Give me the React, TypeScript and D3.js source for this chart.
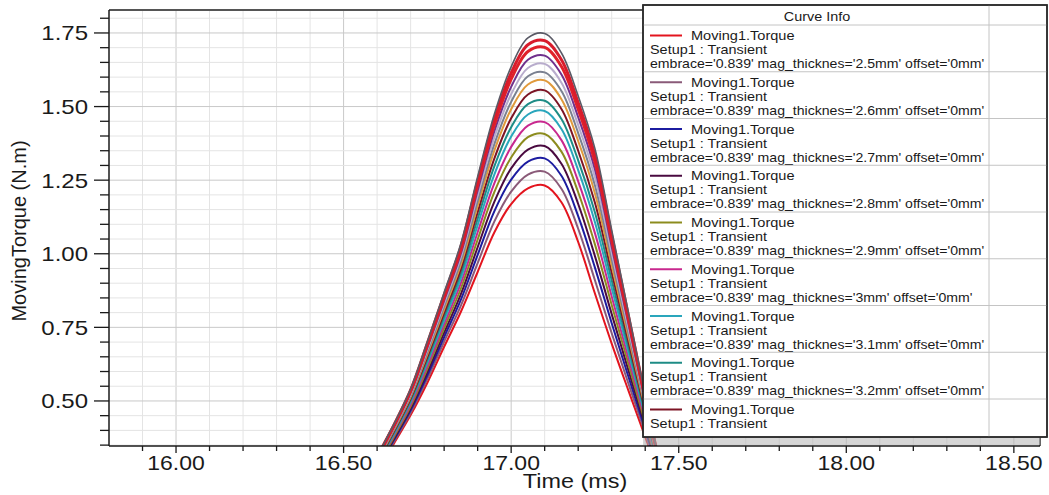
import React from 'react';
import * as d3 from 'd3';

// sample times (ms)
const TIME = [16.55, 16.6, 16.65, 16.7, 16.75, 16.8, 16.85, 16.9, 16.95, 17.0, 17.05, 17.1, 17.15, 17.2, 17.25, 17.3, 17.35, 17.4, 17.45];

// MovingTorque (N.m) per magnet thickness
const S_2_5 = [0.16, 0.257, 0.355, 0.452, 0.562, 0.684, 0.803, 0.938, 1.073, 1.169, 1.222, 1.232, 1.175, 1.04, 0.865, 0.695, 0.535, 0.378, 0.22];
const S_2_6 = [0.164, 0.262, 0.361, 0.46, 0.575, 0.701, 0.824, 0.968, 1.11, 1.211, 1.269, 1.279, 1.221, 1.085, 0.91, 0.73, 0.559, 0.391, 0.223];
const S_2_7 = [0.167, 0.267, 0.367, 0.468, 0.587, 0.717, 0.844, 0.996, 1.145, 1.252, 1.313, 1.324, 1.265, 1.128, 0.953, 0.764, 0.582, 0.403, 0.225];
const S_2_8 = [0.17, 0.271, 0.372, 0.475, 0.598, 0.732, 0.863, 1.022, 1.177, 1.29, 1.354, 1.366, 1.306, 1.169, 0.992, 0.795, 0.604, 0.415, 0.228];
const S_2_9 = [0.174, 0.276, 0.377, 0.482, 0.61, 0.747, 0.882, 1.048, 1.21, 1.327, 1.396, 1.407, 1.347, 1.209, 1.032, 0.826, 0.625, 0.426, 0.23];
const S_3_0 = [0.177, 0.28, 0.383, 0.489, 0.62, 0.761, 0.9, 1.073, 1.24, 1.363, 1.435, 1.447, 1.386, 1.246, 1.07, 0.855, 0.645, 0.437, 0.233];
const S_3_1 = [0.18, 0.284, 0.387, 0.496, 0.631, 0.774, 0.917, 1.097, 1.27, 1.398, 1.473, 1.485, 1.424, 1.284, 1.107, 0.884, 0.665, 0.448, 0.235];
const S_3_2 = [0.182, 0.288, 0.392, 0.502, 0.64, 0.787, 0.933, 1.119, 1.298, 1.43, 1.508, 1.52, 1.458, 1.317, 1.14, 0.91, 0.683, 0.457, 0.237];
const S_3_3 = [0.185, 0.291, 0.396, 0.508, 0.65, 0.799, 0.948, 1.141, 1.324, 1.46, 1.541, 1.555, 1.492, 1.35, 1.173, 0.936, 0.701, 0.467, 0.239];
const S_3_4 = [0.188, 0.295, 0.401, 0.514, 0.659, 0.811, 0.963, 1.162, 1.351, 1.491, 1.575, 1.589, 1.525, 1.383, 1.205, 0.961, 0.718, 0.476, 0.241];
const S_3_5 = [0.19, 0.298, 0.404, 0.518, 0.666, 0.821, 0.976, 1.179, 1.373, 1.516, 1.603, 1.616, 1.553, 1.41, 1.232, 0.982, 0.732, 0.484, 0.242];
const S_3_6 = [0.192, 0.301, 0.408, 0.523, 0.674, 0.831, 0.989, 1.198, 1.395, 1.542, 1.631, 1.645, 1.581, 1.437, 1.259, 1.003, 0.747, 0.492, 0.244];
const S_3_7 = [0.194, 0.304, 0.411, 0.528, 0.682, 0.841, 1.001, 1.215, 1.417, 1.567, 1.659, 1.673, 1.609, 1.464, 1.286, 1.024, 0.762, 0.499, 0.246];
const S_3_8 = [0.196, 0.307, 0.415, 0.533, 0.689, 0.851, 1.014, 1.233, 1.438, 1.593, 1.687, 1.701, 1.636, 1.491, 1.312, 1.045, 0.776, 0.507, 0.247];
const S_3_9 = [0.198, 0.31, 0.418, 0.537, 0.696, 0.86, 1.024, 1.247, 1.457, 1.614, 1.71, 1.724, 1.659, 1.513, 1.334, 1.062, 0.788, 0.514, 0.249];
const S_4_0 = [0.2, 0.312, 0.421, 0.541, 0.702, 0.868, 1.035, 1.262, 1.475, 1.635, 1.733, 1.748, 1.682, 1.536, 1.357, 1.08, 0.8, 0.52, 0.25];

const SERIES = [S_2_5, S_2_6, S_2_7, S_2_8, S_2_9, S_3_0, S_3_1, S_3_2, S_3_3, S_3_4, S_3_5, S_3_6, S_3_7, S_3_8, S_3_9, S_4_0];
const THICKNESS = ['2.5mm', '2.6mm', '2.7mm', '2.8mm', '2.9mm', '3mm', '3.1mm', '3.2mm', '3.3mm', '3.4mm', '3.5mm', '3.6mm', '3.7mm', '3.8mm', '3.9mm', '4mm'];
const COLORS = ['#e3141e', '#8a5a78', '#1c1ca0', '#4a0a40', '#8c8c1e', '#c8288e', '#2aa6bc', '#1e8c86', '#7c1424',
  '#e09a3c', '#7a8090', '#b8accc', '#70308c', '#e0202a', '#d81c2c', '#5a5a66'];
const WIDTHS = [2, 2, 2, 2, 2, 2, 2, 2, 2, 2, 2, 2, 2, 3, 3, 1.6];

const X_TICKS = [16.0, 16.5, 17.0, 17.5, 18.0, 18.5];
const Y_TICKS = [0.5, 0.75, 1.0, 1.25, 1.5, 1.75];

const FONT = 'Liberation Sans, Arial, sans-serif';

function SText({ x, y, sx = 1.15, anchor = 'start', size, children, fill = '#1a1a1a' }: any) {
  return (
    <text transform={`translate(${x},${y}) scale(${sx},1)`} textAnchor={anchor} fontSize={size}
      fontFamily={FONT} fill={fill}>{children}</text>
  );
}

export default function App() {
  const W = 1049, H = 495;
  const L = 109, R = 1040, T = 10, B = 446;
  const x = d3.scaleLinear().domain([15.8, 18.578]).range([L, R]);
  const y = d3.scaleLinear().domain([0.347, 1.828]).range([B, T]);
  const minorX = d3.range(159, 186).map(v => v / 10);
  const minorY = d3.range(7, 37).map(v => +(v * 0.05).toFixed(2));
  const line = d3.line<number>().x((_, i) => x(TIME[i])).y(d => y(d)).curve(d3.curveCatmullRom.alpha(0.5));

  const LX = 643, LY = 5, LW = 404, LB = 437;
  const rowTops = d3.range(9).map(i => 25 + i * 46.75);

  return (
    <svg width={W} height={H} style={{ position: 'absolute', left: 0, top: 0, background: '#fff' }}>
      <defs>
        <clipPath id="plot"><rect x={L} y={T} width={R - L} height={B - T} /></clipPath>
        <clipPath id="leg"><rect x={LX} y={LY} width={LW} height={LB - LY} /></clipPath>
      </defs>
      {/* grid */}
      {minorX.map(v => (
        <line key={'gx' + v} x1={x(v)} x2={x(v)} y1={T} y2={B}
          stroke={Math.abs(v * 2 - Math.round(v * 2)) < 1e-6 ? '#c9c9c9' : '#e4e4e4'} strokeWidth={1} />
      ))}
      {minorY.map(v => (
        <line key={'gy' + v} x1={L} x2={R} y1={y(v)} y2={y(v)}
          stroke={Math.abs(v * 4 - Math.round(v * 4)) < 1e-6 ? '#c9c9c9' : '#e4e4e4'} strokeWidth={1} />
      ))}
      {/* curves */}
      <g clipPath="url(#plot)">
        {SERIES.map((s, i) => (
          <path key={i} d={line(s) || ''} fill="none" stroke={COLORS[i]} strokeWidth={WIDTHS[i]} />
        ))}
      </g>
      {/* frame */}
      <line x1={L} x2={R} y1={T} y2={T} stroke="#555" strokeWidth={2} />
      <line x1={R} x2={R} y1={T} y2={B} stroke="#333" strokeWidth={1.5} />
      <line x1={L} x2={L} y1={T} y2={B} stroke="#1a1a1a" strokeWidth={1.5} />
      <line x1={L} x2={R} y1={B} y2={B} stroke="#1a1a1a" strokeWidth={1.5} />
      {/* y ticks */}
      {minorY.map(v => {
        const major = Math.abs(v * 4 - Math.round(v * 4)) < 1e-6;
        return <line key={'ty' + v} x1={major ? L - 15 : L - 9} x2={L} y1={y(v)} y2={y(v)} stroke="#1a1a1a" strokeWidth={1.3} />;
      })}
      {Y_TICKS.map(v => (
        <SText key={'ly' + v} x={88} y={y(v) + 7.5} anchor="end" size={20} sx={1.2}>{v.toFixed(2)}</SText>
      ))}
      {/* x ticks */}
      {minorX.map(v => {
        const major = Math.abs(v * 2 - Math.round(v * 2)) < 1e-6;
        return <line key={'tx' + v} x1={x(v)} x2={x(v)} y1={B} y2={major ? B + 7 : B + 5} stroke="#1a1a1a" strokeWidth={1.3} />;
      })}
      {X_TICKS.map(v => (
        <SText key={'lx' + v} x={x(v)} y={470} anchor="middle" size={20} sx={1.15}>{v.toFixed(2)}</SText>
      ))}
      <SText x={575} y={488} anchor="middle" size={20} sx={1.17}>Time (ms)</SText>
      <text transform="translate(26,231) rotate(-90)" textAnchor="middle" fontSize={20} fontFamily={FONT} fill="#1a1a1a">MovingTorque (N.m)</text>
      {/* legend */}
      <rect x={LX} y={LB} width={R - LX} height={8} fill="#b4b4b4" opacity={0.55} />
      <rect x={LX} y={LY} width={LW} height={LB - LY} fill="#fff" stroke="#2a2a2a" strokeWidth={1.5} />
      <g clipPath="url(#leg)">
        <line x1={989} x2={989} y1={LY} y2={LB} stroke="#c4c4c4" strokeWidth={1} />
        <line x1={LX} x2={LX + LW} y1={25} y2={25} stroke="#c4c4c4" strokeWidth={1} />
        <SText x={817} y={21} anchor="middle" size={12} sx={1.2}>Curve Info</SText>
        {rowTops.map((t, i) => (
          <g key={'lg' + i}>
            {i > 0 && <line x1={LX} x2={LX + LW} y1={t} y2={t} stroke="#c4c4c4" strokeWidth={1} />}
            <line x1={650} x2={682} y1={t + 10.5} y2={t + 10.5} stroke={COLORS[i]} strokeWidth={2} />
            <SText x={691} y={t + 15} size={13} sx={1.12}>Moving1.Torque</SText>
            <SText x={650} y={t + 29} size={13} sx={1.11}>Setup1 : Transient</SText>
            {i < 8 && (
              <SText x={650} y={t + 43} size={13} sx={1.085}>{`embrace='0.839' mag_thicknes='${THICKNESS[i]}' offset='0mm'`}</SText>
            )}
          </g>
        ))}
      </g>
      <rect x={LX} y={LY} width={LW} height={LB - LY} fill="none" stroke="#2a2a2a" strokeWidth={1.5} />
    </svg>
  );
}
